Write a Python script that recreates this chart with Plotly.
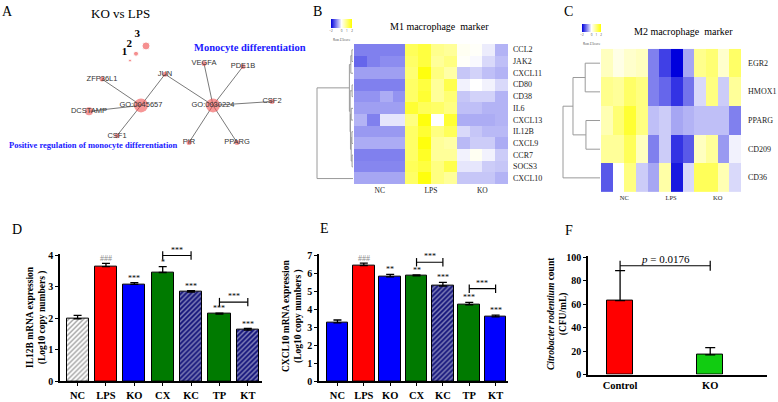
import plotly.graph_objects as go

W, H = 778, 402
def px(x): return x / W
def py(y): return 1 - y / H

SERIF = "Liberation Serif"
SANS = "Liberation Sans"

# ---------------- Panel A : network ----------------
node_names = ["GO:0045657", "GO:0030224", "JUN", "ZFP36L1", "DCSTAMP", "CSF1",
              "VEGFA", "PDE1B", "PIR", "PPARG", "CSF2"]
node_x = [141, 213, 165, 102, 89, 117, 204, 243, 189, 237, 272]
node_y = [104, 104, 72, 77, 110, 135, 61, 64, 142, 142, 100]
node_size = [14, 14, 5, 5, 8, 5, 5, 5, 5, 5, 5]
edges = [("GO:0045657", "ZFP36L1"), ("GO:0045657", "DCSTAMP"), ("GO:0045657", "CSF1"),
         ("GO:0045657", "JUN"), ("GO:0030224", "JUN"), ("GO:0030224", "VEGFA"),
         ("GO:0030224", "PDE1B"), ("GO:0030224", "PIR"), ("GO:0030224", "PPARG"),
         ("GO:0030224", "CSF2")]
legend_labels = ["1", "2", "3"]
legend_x = [130, 136, 146]
legend_y = [58, 51, 43]
legend_size = [3, 5, 8]

# ---------------- Panel B / C : heatmaps ----------------
groups = ["NC", "LPS", "KO"]
b_rows = ["CCL2", "JAK2", "CXCL11", "CD80", "CD38", "IL6", "CXCL13", "IL12B",
          "CXCL9", "CCR7", "SOCS3", "CXCL10"]
b_z = [
    [-1.0, -1.0, -1.0, -1.0, 1.3, 1.5, 0.9, 0.8, 0.1, 0.05, -0.15, -0.6],
    [-1.2, -1.0, -0.9, -0.9, 1.2, 1.5, 0.8, 1.0, 0.05, -0.05, -0.3, -0.5],
    [-0.75, -0.75, -0.75, -0.75, 1.1, 1.9, 1.0, 0.7, -0.45, -0.35, -0.5, -0.6],
    [-1.0, -1.0, -1.0, -1.0, 1.2, 1.5, 0.8, 1.4, -0.1, 0.0, -0.1, -0.3],
    [-0.85, -0.85, -0.65, -0.85, 1.2, 1.6, 0.8, 1.1, -0.45, -0.35, -0.35, -0.6],
    [-0.75, -0.75, -0.75, -0.75, 1.6, 1.3, 1.2, 1.0, -0.5, -0.5, -0.6, -0.6],
    [-0.6, -1.0, -0.2, -0.2, 1.0, 1.9, 0.0, 1.6, -0.65, -0.65, -0.65, -0.6],
    [-0.8, -0.8, -0.8, -0.8, 1.2, 1.6, 1.0, 1.3, -0.3, -0.45, -0.55, -0.55],
    [-0.65, -0.65, -0.65, -0.65, 1.2, 1.9, 0.8, 0.7, -0.55, -0.4, -0.4, -0.65],
    [-1.0, -1.0, -1.0, -1.0, 1.2, 1.7, 0.8, 0.8, -0.1, 0.1, -0.1, -0.4],
    [-0.95, -0.95, -0.95, -0.95, 1.3, 1.5, 1.0, 1.4, -0.2, -0.2, -0.4, -0.45],
    [-0.7, -0.7, -0.7, -0.7, 1.2, 1.9, 1.0, 0.8, -0.45, -0.45, -0.45, -0.6],
]
# merges: (left, right, height) ; indices >= n refer to earlier merges
b_merges = [(0, 1, 0.3), (12, 2, 0.6), (3, 4, 0.25), (5, 6, 0.5), (7, 8, 0.3),
            (9, 10, 0.25), (16, 17, 0.5), (15, 18, 0.7), (14, 19, 0.8), (13, 20, 1.0),
            (21, 11, 10.0)]

c_rows = ["EGR2", "HMOX1", "PPARG", "CD209", "CD36"]
c_z = [
    [0.5, 0.2, 0.4, 0.5, -1.0, -1.5, -2.0, -0.7, 0.9, 1.1, 0.4, 1.2],
    [0.9, 0.8, 1.2, 1.0, -1.0, -1.2, -1.6, -1.1, -0.3, 1.0, -0.4, 0.8],
    [0.6, 1.1, 1.6, 1.0, -0.5, -0.4, -0.7, -0.6, -0.5, -0.5, -0.5, -1.0],
    [0.8, 0.8, 1.3, 0.5, -1.0, -0.4, -1.6, -1.3, 0.5, 0.8, -0.8, -0.1],
    [-1.3, 0.0, 1.0, -0.4, -0.7, 0.7, -1.8, -0.3, 1.3, 1.3, 0.6, -0.3],
]
c_merges = [(0, 1, 4.0), (2, 3, 3.8), (5, 6, 7.3), (7, 4, 10.0)]

# ---------------- Panel D / E / F : bars ----------------
treat = ["NC", "LPS", "KO", "CX", "KC", "TP", "KT"]
il12b_mean = [1.99, 3.65, 3.08, 3.46, 2.84, 2.14, 1.63]
il12b_err = [0.11, 0.10, 0.06, 0.19, 0.04, 0.03, 0.05]
il12b_sig = ["", "###", "***", "*", "***", "***", "***"]
il12b_pairs = [(3, 4, 4.0, "***"), (5, 6, 2.52, "***")]

cxcl10_mean = [3.25, 6.44, 5.81, 5.86, 5.30, 4.26, 3.58]
cxcl10_err = [0.16, 0.13, 0.14, 0.06, 0.20, 0.13, 0.10]
cxcl10_sig = ["", "###", "**", "**", "***", "***", "***"]
cxcl10_pairs = [(3, 4, 6.62, "***"), (5, 6, 5.15, "***")]

f_groups = ["Control", "KO"]
f_mean = [63.2, 16.9]
f_err = [25.7, 6.1]
f_pval = "<i>p</i> = 0.0176"
f_pair_y = 93

RED, BLUE, GREEN, NAVY = "#ff0000", "#0000ff", "#007a00", "#16167c"

fig = go.Figure()

# ---- Panel A traces
idx = {n: i for i, n in enumerate(node_names)}
ex, ey = [], []
for a, b in edges:
    ex += [node_x[idx[a]], node_x[idx[b]], None]
    ey += [node_y[idx[a]], node_y[idx[b]], None]
fig.add_trace(go.Scatter(x=ex, y=ey, mode="lines", line=dict(color="#7a7a7a", width=1),
                         xaxis="x", yaxis="y", hoverinfo="skip", showlegend=False))
fig.add_trace(go.Scatter(x=node_x, y=node_y, mode="markers+text", text=node_names,
                         textposition="middle center",
                         textfont=dict(family=SANS, size=7.5, color="#333333"),
                         marker=dict(size=node_size, color="rgba(240,80,80,0.85)", line=dict(width=0)),
                         xaxis="x", yaxis="y", showlegend=False, hoverinfo="skip"))
fig.add_trace(go.Scatter(x=legend_x, y=legend_y, mode="markers+text", text=legend_labels,
                         textposition="top left",
                         textfont=dict(family=SERIF, size=11, color="black", weight="bold"),
                         marker=dict(size=legend_size, color="rgba(240,80,80,0.9)"),
                         xaxis="x", yaxis="y", showlegend=False, hoverinfo="skip"))

# ---- dendrogram helper
def dendro(n, merges):
    pos = {i: float(i) for i in range(n)}
    hgt = {i: 0.0 for i in range(n)}
    xs, ys = [], []
    for k, (a, b, h) in enumerate(merges):
        xs += [hgt[a], h, h, hgt[b], None]
        ys += [pos[a], pos[a], pos[b], pos[b], None]
        pos[n + k] = (pos[a] + pos[b]) / 2
        hgt[n + k] = h
    return xs, ys

cscale = [[0, "#0000dd"], [0.5, "#ffffff"], [1, "#ffff00"]]

def cbar(xc, ytop, ln, th):
    return dict(orientation="h", x=px(xc), xanchor="center", y=py(ytop), yanchor="top",
                lenmode="pixels", len=ln, thicknessmode="pixels", thickness=th,
                xpad=0, ypad=0, outlinewidth=0, ticks="", tickvals=[-2, 0, 1, 2],
                tickfont=dict(size=3, color="#444"),
                title=dict(text="Row Z-Score", side="bottom", font=dict(size=3, color="#444")))

# ---- Panel B
fig.add_trace(go.Heatmap(z=b_z, x=list(range(12)), y=list(range(len(b_rows))),
                         colorscale=cscale, zmin=-2, zmax=2, xaxis="x2", yaxis="y2",
                         colorbar=cbar(341.5, 15, 21, 9), hoverinfo="skip"))
dx, dy = dendro(len(b_rows), b_merges)
fig.add_trace(go.Scatter(x=dx, y=dy, mode="lines", line=dict(color="#9a9a9a", width=1),
                         xaxis="x3", yaxis="y3", showlegend=False, hoverinfo="skip"))

# ---- Panel C
fig.add_trace(go.Heatmap(z=c_z, x=list(range(12)), y=list(range(len(c_rows))),
                         colorscale=cscale, zmin=-2, zmax=2, xaxis="x4", yaxis="y4",
                         colorbar=cbar(591.5, 21, 19, 8), hoverinfo="skip"))
dx, dy = dendro(len(c_rows), c_merges)
fig.add_trace(go.Scatter(x=dx, y=dy, mode="lines", line=dict(color="#9a9a9a", width=1),
                         xaxis="x5", yaxis="y5", showlegend=False, hoverinfo="skip"))

# ---- bar helper
def bars(xa, ya, means, errs, colors, shapes, fgs, width):
    fig.add_trace(go.Bar(x=list(range(len(means))), y=means, width=width,
                         marker=dict(color=colors, line=dict(color="black", width=1),
                                     pattern=dict(shape=shapes, fgcolor=fgs, size=3.5, solidity=0.4)),
                         error_y=dict(type="data", array=errs, arrayminus=[0] * len(errs),
                                      symmetric=False, color="black", thickness=1.3, width=4),
                         xaxis=xa, yaxis=ya, showlegend=False, hoverinfo="skip"))

def sig_marks(xa, ya, means, errs, sigs):
    for i, s in enumerate(sigs):
        if not s:
            continue
        fig.add_annotation(x=i, y=means[i] + errs[i], xref=xa, yref=ya, text=s,
                           showarrow=False, yanchor="bottom", yshift=-2,
                           font=dict(family=SERIF, size=8,
                                     color="#8a8a8a" if s.startswith("#") else "black"))

def pair_marks(xa, ya, pairs, size=8, capsize=6):
    for a, b, h, s in pairs:
        fig.add_trace(go.Scatter(x=[a, b], y=[h, h], mode="lines+markers",
                                 line=dict(color="black", width=1.2),
                                 marker=dict(symbol="line-ns-open", size=capsize,
                                             line=dict(color="black", width=1.2)),
                                 cliponaxis=False, xaxis=xa, yaxis=ya,
                                 showlegend=False, hoverinfo="skip"))
        fig.add_annotation(x=(a + b) / 2, y=h, xref=xa, yref=ya, text=s, showarrow=False,
                           yanchor="bottom", yshift=-1,
                           font=dict(family=SERIF, size=size, color="black"))

# D
bars("x6", "y6", il12b_mean, il12b_err,
     ["white", RED, BLUE, GREEN, NAVY, GREEN, NAVY],
     ["/", "", "", "", "/", "", "/"],
     ["#4a4a4a", RED, BLUE, GREEN, "#3a3ac8", GREEN, "#3a3ac8"], 0.78)
sig_marks("x6", "y6", il12b_mean, il12b_err, il12b_sig)
pair_marks("x6", "y6", il12b_pairs)
# E
bars("x7", "y7", cxcl10_mean, cxcl10_err,
     [BLUE, RED, BLUE, GREEN, NAVY, GREEN, BLUE],
     ["", "", "", "", "/", "", ""],
     [BLUE, RED, BLUE, GREEN, "#3a3ac8", GREEN, BLUE], 0.82)
sig_marks("x7", "y7", cxcl10_mean, cxcl10_err, cxcl10_sig)
pair_marks("x7", "y7", cxcl10_pairs)
# F
fig.add_trace(go.Bar(x=[0, 1], y=f_mean, width=0.29,
                     marker=dict(color=[RED, "#11cc11"], line=dict(color="black", width=1)),
                     error_y=dict(type="data", array=f_err, arrayminus=[0, 0], symmetric=False,
                                  color="black", thickness=1.3, width=5),
                     xaxis="x8", yaxis="y8", showlegend=False, hoverinfo="skip"))
pair_marks("x8", "y8", [(0, 1, f_pair_y, f_pval)], size=11, capsize=7)

# ---------------- Layout ----------------
hid = dict(visible=False, showgrid=False, zeroline=False)
tf_tick = dict(family=SERIF, size=10, color="black", weight="bold")

def bar_x(dom, rng, labels, ticks="outside"):
    return dict(domain=[px(dom[0]), px(dom[1])], range=rng, tickvals=list(range(len(labels))),
                ticktext=labels, showline=True, linecolor="black", linewidth=1.5,
                ticks=ticks, ticklen=3, tickwidth=1.3, tickcolor="black",
                tickfont=dict(family=SERIF, size=10.5, color="black", weight="bold"),
                showgrid=False, zeroline=False, fixedrange=True)

def bar_y(dom, rng, tv, anchor):
    return dict(domain=[py(dom[0]), py(dom[1])], range=rng, tickvals=tv, showline=True,
                linecolor="black", linewidth=1.5, ticks="outside", ticklen=3, tickwidth=1.3,
                tickcolor="black", tickfont=tf_tick, showgrid=False, zeroline=False,
                anchor=anchor)

fig.update_layout(
    width=W, height=H, margin=dict(l=0, r=0, t=0, b=0),
    paper_bgcolor="white", plot_bgcolor="rgba(0,0,0,0)", showlegend=False,
    bargap=0,
    # A
    xaxis=dict(domain=[0, px(310)], range=[0, 310], anchor="y", **hid),
    yaxis=dict(domain=[py(200), 1], range=[200, 0], anchor="x", **hid),
    # B heatmap
    xaxis2=dict(domain=[px(354), px(508)], range=[-0.5, 11.5], anchor="y2",
                tickvals=[1.5, 5.5, 9.5], ticktext=groups, ticks="", showgrid=False,
                zeroline=False, showline=False,
                tickfont=dict(family=SERIF, size=7.5, color="#222")),
    yaxis2=dict(domain=[py(185), py(41)], range=[len(b_rows) - 0.5, -0.5], anchor="x2",
                showticklabels=False, ticks="", showgrid=False, zeroline=False, showline=False),
    xaxis3=dict(domain=[px(316), px(354)], range=[10.28, -0.28], anchor="y3", **hid),
    yaxis3=dict(domain=[py(185), py(41)], range=[len(b_rows) - 0.5, -0.5], anchor="x3", **hid),
    # C heatmap
    xaxis4=dict(domain=[px(601), px(741)], range=[-0.5, 11.5], anchor="y4",
                tickvals=[1.5, 5.5, 9.5], ticktext=groups, ticks="", showgrid=False,
                zeroline=False, showline=False,
                tickfont=dict(family=SERIF, size=6.5, color="#222")),
    yaxis4=dict(domain=[py(193), py(46)], range=[len(c_rows) - 0.5, -0.5], anchor="x4",
                showticklabels=False, ticks="", showgrid=False, zeroline=False, showline=False),
    xaxis5=dict(domain=[px(560), px(601)], range=[10.81, -0.27], anchor="y5", **hid),
    yaxis5=dict(domain=[py(193), py(46)], range=[len(c_rows) - 0.5, -0.5], anchor="x5", **hid),
    # D
    xaxis6=dict(anchor="y6", **bar_x((60, 262), [-0.62, 6.5], treat)),
    yaxis6=bar_y((387, 256), [0, 4.06], [0, 1, 2, 3, 4], "x6"),
    # E
    xaxis7=dict(anchor="y7", **bar_x((319, 508), [-0.7, 6.47], treat)),
    yaxis7=bar_y((387, 256), [0, 7.1], [0, 1, 2, 3, 4, 5, 6, 7], "x7"),
    # F
    xaxis8=dict(anchor="y8", **bar_x((588, 767), [-0.356, 1.63], f_groups, ticks="")),
    yaxis8=bar_y((380, 258), [0, 101.7], [0, 20, 40, 60, 80, 100], "x8"),
)

# heatmap row labels (left-aligned, right of the heatmaps)
for i, r in enumerate(b_rows):
    fig.add_annotation(x=px(511), y=i, xref="paper", yref="y2", text=r, showarrow=False,
                       xanchor="left", yanchor="middle",
                       font=dict(family=SERIF, size=8, color="#222"))
for i, r in enumerate(c_rows):
    fig.add_annotation(x=px(746), y=i, xref="paper", yref="y4", text=r, showarrow=False,
                       xanchor="left", yanchor="middle",
                       font=dict(family=SERIF, size=8, color="#222"))

def note(x, y, text, size, color="black", family=SERIF, bold=False, angle=0, xanchor="center"):
    fig.add_annotation(x=px(x), y=py(y), xref="paper", yref="paper", text=text,
                       showarrow=False, textangle=angle, xanchor=xanchor, yanchor="middle",
                       font=dict(family=family, size=size, color=color,
                                 weight="bold" if bold else "normal"))

# panel letters
for lt, (x, y) in {"A": (7, 8), "B": (317, 8), "C": (568, 8),
                   "D": (17, 231), "E": (324, 230), "F": (569, 232)}.items():
    note(x, y, lt, 14)

note(120, 10, "KO vs LPS", 13)
note(250, 45, "Monocyte differentiation", 10.5, color="#1a1aff", bold=True)
note(93, 145, "Positive regulation of monocyte differentiation", 8.5, color="#1a1aff", bold=True)
note(439, 23, "M1 macrophage&nbsp;&nbsp;marker", 10)
note(683, 28, "M2 macrophage&nbsp;&nbsp;marker", 10)

note(36, 321, "IL12B mRNA expression<br>(Log10 copy numbers )", 9.5, bold=True, angle=-90)
note(292, 320, "CXCL10 mRNA expression<br>(Log10 copy numbers )", 9.5, bold=True, angle=-90)
note(557, 318, "<i>Citrobacter rodentium</i> count<br>(CFU/mL)", 9.5, bold=True, angle=-90)

fig.write_html("out.html", config={"displayModeBar": False},
               post_script="document.body.style.margin='0px';document.body.style.overflow='hidden';")
